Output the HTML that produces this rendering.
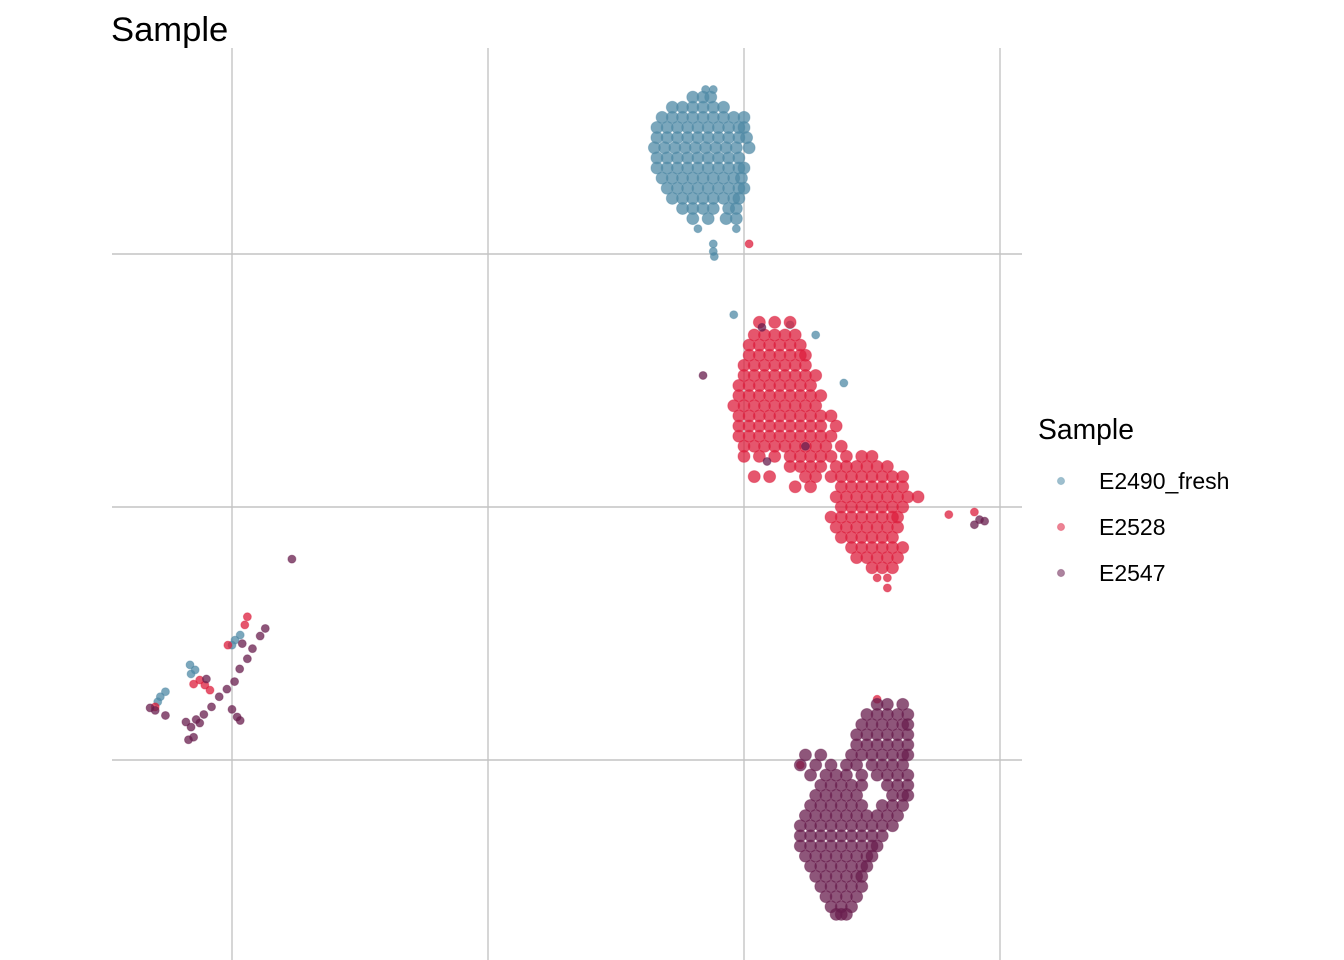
<!DOCTYPE html>
<html><head><meta charset="utf-8"><style>
html,body{margin:0;padding:0;background:#fff;}
svg{display:block;font-family:"Liberation Sans",sans-serif;}
</style></head><body>
<svg id="chart" width="1344" height="960" viewBox="0 0 1344 960">
<text x="111" y="41" font-size="34.6" fill="#000">Sample</text>
<g id="grid"></g>
<g id="points"></g>
<g>
<text x="1038" y="439" font-size="28.3" fill="#000">Sample</text>
<g><circle cx="1061" cy="481" r="3.6" fill="#4f8aa6" fill-opacity="0.55" stroke="#4f8aa6" stroke-opacity="0.3"/><text x="1099" y="489" font-size="23">E2490_fresh</text></g>
<g><circle cx="1061" cy="527" r="3.6" fill="#dc1e3c" fill-opacity="0.55" stroke="#dc1e3c" stroke-opacity="0.3"/><text x="1099" y="535" font-size="23">E2528</text></g>
<g><circle cx="1061" cy="573" r="3.6" fill="#681e4e" fill-opacity="0.55" stroke="#681e4e" stroke-opacity="0.3"/><text x="1099" y="581" font-size="23">E2547</text></g>
</g>
</svg>
<script>
const xTicks = [-10, -5, 0, 5];
const yTicks = [-5, 0, 5];
// rows: [y, [x values]]
const blueRows = [
[8.25,[-0.75,-0.6]],[8.1,[-1.0,-0.8,-0.65]],[7.9,[-1.4,-1.2,-1.0,-0.8,-0.6,-0.4]],
[7.7,[-1.6,-1.4,-1.2,-1.0,-0.8,-0.6,-0.4,-0.2,0.0]],[7.5,[-1.7,-1.5,-1.3,-1.1,-0.9,-0.7,-0.5,-0.3,-0.1,0.0]],
[7.3,[-1.7,-1.5,-1.3,-1.1,-0.9,-0.7,-0.5,-0.3,-0.1,0.05]],[7.1,[-1.75,-1.55,-1.35,-1.15,-0.95,-0.75,-0.55,-0.35,-0.15,0.1]],
[6.9,[-1.7,-1.5,-1.3,-1.1,-0.9,-0.7,-0.5,-0.3,-0.1]],[6.7,[-1.7,-1.5,-1.3,-1.1,-0.9,-0.7,-0.5,-0.3,-0.1,0.0]],
[6.5,[-1.6,-1.4,-1.2,-1.0,-0.8,-0.6,-0.4,-0.2,-0.05]],[6.3,[-1.5,-1.3,-1.1,-0.9,-0.7,-0.5,-0.3,-0.1,0.0]],
[6.1,[-1.4,-1.2,-1.0,-0.8,-0.6,-0.4,-0.2,-0.1]],[5.9,[-1.2,-1.0,-0.8,-0.6,-0.3,-0.15]],
[5.7,[-1.0,-0.7,-0.35,-0.15]],[5.5,[-0.9,-0.15]],[5.2,[-0.6]],[5.05,[-0.6]],[4.95,[-0.58]],
[3.8,[-0.2]],[3.6,[0.9]],[3.4,[1.4]],[2.45,[1.95]],
[-2.53,[-9.84]],[-2.63,[-9.94]],[-2.73,[-10.0]],[-3.12,[-10.82]],[-3.22,[-10.72]],[-3.3,[-10.8]],[-3.65,[-11.3]],[-3.75,[-11.4]],[-3.85,[-11.45]]
];
const redRows = [
[5.2,[0.1]],[3.65,[0.3,0.6,0.9]],[3.4,[0.2,0.4,0.6,0.8,1.0]],[3.2,[0.1,0.3,0.5,0.7,0.9,1.1]],
[3.0,[0.1,0.3,0.5,0.7,0.9,1.1,1.2]],[2.8,[0.0,0.2,0.4,0.6,0.8,1.0,1.2]],[2.6,[0.0,0.2,0.4,0.6,0.8,1.0,1.2,1.4]],
[2.4,[-0.1,0.1,0.3,0.5,0.7,0.9,1.1,1.3]],[2.2,[-0.1,0.1,0.3,0.5,0.7,0.9,1.1,1.3,1.5]],
[2.0,[-0.2,0.0,0.2,0.4,0.6,0.8,1.0,1.2,1.4]],[1.8,[-0.1,0.1,0.3,0.5,0.7,0.9,1.1,1.3,1.5,1.7]],
[1.6,[-0.1,0.1,0.3,0.5,0.7,0.9,1.1,1.3,1.5,1.8]],[1.4,[-0.1,0.1,0.3,0.5,0.7,0.9,1.1,1.3,1.5,1.7]],
[1.2,[0.0,0.2,0.4,0.6,0.8,1.0,1.2,1.4,1.6,1.9]],[1.0,[0.0,0.3,0.6,0.9,1.1,1.3,1.5,1.7,2.0,2.3,2.5]],
[0.8,[0.9,1.1,1.3,1.5,1.8,2.0,2.2,2.4,2.6,2.8]],[0.6,[0.2,0.5,1.2,1.4,1.7,1.9,2.1,2.3,2.5,2.7,2.9,3.1]],
[0.4,[1.0,1.3,1.9,2.1,2.3,2.5,2.7,2.9,3.1]],[0.2,[1.8,2.0,2.2,2.4,2.6,2.8,3.0,3.2,3.4]],
[0.0,[1.9,2.1,2.3,2.5,2.7,2.9,3.1]],[-0.2,[1.7,1.9,2.1,2.3,2.5,2.7,2.9,3.0]],[-0.15,[4.0]],
[-0.4,[1.8,2.0,2.2,2.4,2.6,2.8,3.0]],[-0.6,[1.9,2.1,2.3,2.5,2.7,2.9]],[-0.8,[2.1,2.3,2.5,2.7,2.9,3.1]],
[-1.0,[2.2,2.4,2.6,2.8,3.0]],[-1.2,[2.5,2.7,2.9]],[-1.4,[2.6,2.8]],[-1.6,[2.8]],[-0.1,[4.5]],
[-3.8,[2.6]],[-5.1,[1.1]],
[-2.17,[-9.7]],[-2.33,[-9.75]],[-2.73,[-10.08]],[-3.42,[-10.63]],[-3.52,[-10.53]],[-3.62,[-10.43]],[-3.5,[-10.75]],[-3.95,[-11.5]]
];
const purpleRows = [
[-3.9,[2.6,2.8,3.1]],[-4.1,[2.4,2.6,2.8,3.0,3.2]],[-4.3,[2.3,2.5,2.7,2.9,3.1,3.2]],
[-4.5,[2.2,2.4,2.6,2.8,3.0,3.2]],[-4.7,[2.2,2.4,2.6,2.8,3.0,3.2]],[-4.9,[1.2,1.5,2.1,2.3,2.5,2.7,2.9,3.1,3.2]],
[-5.1,[1.1,1.4,1.7,2.0,2.2,2.5,2.7,2.9,3.1]],[-5.3,[1.3,1.6,1.8,2.0,2.3,2.6,2.8,3.0,3.2]],
[-5.5,[1.5,1.7,1.9,2.1,2.3,2.8,3.0,3.2]],[-5.7,[1.4,1.6,1.8,2.0,2.2,2.9,3.1,3.2]],
[-5.9,[1.3,1.5,1.7,1.9,2.1,2.3,2.7,2.9,3.1]],[-6.1,[1.2,1.4,1.6,1.8,2.0,2.2,2.4,2.6,2.8,3.0]],
[-6.3,[1.1,1.3,1.5,1.7,1.9,2.1,2.3,2.5,2.7,2.9]],[-6.5,[1.1,1.3,1.5,1.7,1.9,2.1,2.3,2.5,2.7]],
[-6.7,[1.1,1.3,1.5,1.7,1.9,2.1,2.3,2.5,2.6]],[-6.9,[1.2,1.4,1.6,1.8,2.0,2.2,2.4,2.5]],
[-7.1,[1.3,1.5,1.7,1.9,2.1,2.3,2.4]],[-7.3,[1.4,1.6,1.8,2.0,2.2,2.3]],[-7.5,[1.5,1.7,1.9,2.1,2.3]],
[-7.7,[1.6,1.8,2.0,2.2]],[-7.9,[1.7,1.9,2.1]],[-8.05,[1.8,2.0,1.9]],
[2.6,[-0.8]],[3.55,[0.35]],[1.2,[1.2]],[0.9,[0.45]],[-0.25,[4.6]],[-0.28,[4.7]],[-0.35,[4.5]],
[-1.03,[-8.83]],
[-2.4,[-9.35]],[-2.55,[-9.45]],[-2.8,[-9.6]],[-3.0,[-9.7]],[-3.2,[-9.85]],[-3.45,[-9.95]],[-3.6,[-10.1]],
[-3.75,[-10.25]],[-3.95,[-10.4]],[-3.97,[-11.6]],[-4.1,[-10.55]],[-4.12,[-11.3]],[-4.15,[-9.9]],[-4.2,[-10.7]],[-4.22,[-9.84]],[-4.35,[-10.8]],
[-4.25,[-10.9]],[-4.27,[-10.63]],[-4.0,[-10.0]],[-4.02,[-11.5]],[-3.4,[-10.5]],[-2.7,[-9.8]],[-4.6,[-10.85]],[-4.55,[-10.75]]
];
const NS = 'http://www.w3.org/2000/svg';
const X = v => 744 + v * 51.2;
const Y = v => 507 - v * 50.6;
const grid = document.getElementById('grid');
xTicks.forEach(t => {
  const l = document.createElementNS(NS, 'line');
  
  
  l.setAttribute('x1', X(t)); l.setAttribute('x2', X(t));
  l.setAttribute('y1', 48); l.setAttribute('y2', 960);
  l.setAttribute('stroke', '#c4c4c4'); l.setAttribute('stroke-width', '1.4');
  grid.appendChild(l);
});
yTicks.forEach(t => {
  const l = document.createElementNS(NS, 'line');
  
  
  l.setAttribute('x1', 112); l.setAttribute('x2', 1022);
  l.setAttribute('y1', Y(t)); l.setAttribute('y2', Y(t));
  l.setAttribute('stroke', '#c4c4c4'); l.setAttribute('stroke-width', '1.4');
  grid.appendChild(l);
});
const pg = document.getElementById('points');
function drawSeries(rows, color, name) {
  rows.forEach(r => r[1].forEach(x => {
    const c = document.createElementNS(NS, 'circle');
    
    
    c.setAttribute('cx', X(x)); c.setAttribute('cy', Y(r[0]));
    c.setAttribute('r', r[1].length >= 3 ? 6 : 4);
    c.setAttribute('fill', color); c.setAttribute('fill-opacity', '0.75');
    c.setAttribute('stroke', color); c.setAttribute('stroke-opacity', '0.4');
    pg.appendChild(c);
  }));
}
drawSeries(blueRows, '#4f8aa6', 'point-e2490-fresh');
drawSeries(redRows, '#dc1e3c', 'point-e2528');
drawSeries(purpleRows, '#681e4e', 'point-e2547');
</script>
</body></html>
